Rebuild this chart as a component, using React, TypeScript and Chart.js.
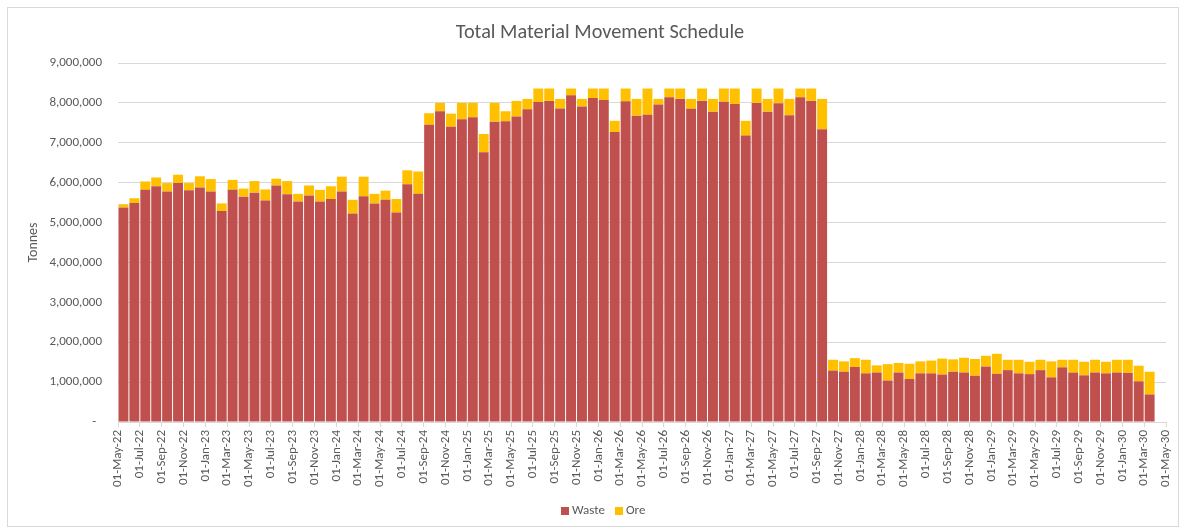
import React, { useEffect, useRef } from "react";
import { Chart, registerables } from "chart.js";

Chart.register(...registerables);

const TITLE = "Total Material Movement Schedule";
const Y_TITLE = "Tonnes";
const FONT = "Carlito, Calibri, Lato, 'Open Sans', sans-serif";
const TEXT = "#595959";
const GRID = "#d9d9d9";

// Bars: one per month, May-22 .. Mar-30
const months: string[] = [
  "May-22", "Jun-22", "Jul-22", "Aug-22", "Sep-22", "Oct-22", "Nov-22", "Dec-22",
  "Jan-23", "Feb-23", "Mar-23", "Apr-23", "May-23", "Jun-23", "Jul-23", "Aug-23", "Sep-23", "Oct-23", "Nov-23", "Dec-23",
  "Jan-24", "Feb-24", "Mar-24", "Apr-24", "May-24", "Jun-24", "Jul-24", "Aug-24", "Sep-24", "Oct-24", "Nov-24", "Dec-24",
  "Jan-25", "Feb-25", "Mar-25", "Apr-25", "May-25", "Jun-25", "Jul-25", "Aug-25", "Sep-25", "Oct-25", "Nov-25", "Dec-25",
  "Jan-26", "Feb-26", "Mar-26", "Apr-26", "May-26", "Jun-26", "Jul-26", "Aug-26", "Sep-26", "Oct-26", "Nov-26", "Dec-26",
  "Jan-27", "Feb-27", "Mar-27", "Apr-27", "May-27", "Jun-27", "Jul-27", "Aug-27", "Sep-27", "Oct-27", "Nov-27", "Dec-27",
  "Jan-28", "Feb-28", "Mar-28", "Apr-28", "May-28", "Jun-28", "Jul-28", "Aug-28", "Sep-28", "Oct-28", "Nov-28", "Dec-28",
  "Jan-29", "Feb-29", "Mar-29", "Apr-29", "May-29", "Jun-29", "Jul-29", "Aug-29", "Sep-29", "Oct-29", "Nov-29", "Dec-29",
  "Jan-30", "Feb-30", "Mar-30",
];

const waste: number[] = [
  5380000, 5490000, 5820000, 5910000, 5780000, 5990000, 5810000, 5880000,
  5780000, 5290000, 5820000, 5650000, 5750000, 5550000, 5930000, 5710000, 5530000, 5680000, 5530000, 5590000,
  5780000, 5230000, 5660000, 5480000, 5570000, 5250000, 5960000, 5720000, 7450000, 7790000, 7400000, 7590000,
  7640000, 6760000, 7530000, 7540000, 7660000, 7840000, 8020000, 8050000, 7860000, 8190000, 7910000, 8120000,
  8070000, 7270000, 8040000, 7680000, 7700000, 7960000, 8140000, 8100000, 7850000, 8050000, 7780000, 8030000,
  7970000, 7180000, 8000000, 7780000, 7990000, 7690000, 8140000, 8050000, 7340000, 1290000, 1260000, 1380000,
  1220000, 1240000, 1040000, 1240000, 1080000, 1220000, 1220000, 1190000, 1260000, 1240000, 1160000, 1390000,
  1210000, 1300000, 1220000, 1200000, 1300000, 1120000, 1370000, 1240000, 1170000, 1240000, 1220000, 1240000,
  1230000, 1020000, 690000,
];

const ore: number[] = [
  80000, 120000, 210000, 220000, 210000, 210000, 180000, 280000,
  310000, 190000, 250000, 200000, 290000, 280000, 170000, 330000, 190000, 250000, 290000, 320000,
  370000, 340000, 490000, 240000, 230000, 340000, 350000, 560000, 290000, 210000, 330000, 410000,
  360000, 460000, 470000, 250000, 390000, 260000, 340000, 310000, 240000, 170000, 190000, 240000,
  290000, 280000, 320000, 420000, 660000, 140000, 220000, 260000, 250000, 310000, 320000, 330000,
  390000, 370000, 360000, 320000, 370000, 410000, 220000, 310000, 760000, 270000, 260000, 220000,
  340000, 180000, 410000, 240000, 380000, 300000, 320000, 400000, 310000, 370000, 420000, 270000,
  500000, 260000, 340000, 310000, 260000, 400000, 190000, 320000, 340000, 320000, 290000, 320000,
  330000, 390000, 570000,
];

// Axis labels every 2 months, at month boundaries
const xTickLabels: string[] = [
  "01-May-22", "01-Jul-22", "01-Sep-22", "01-Nov-22",
  "01-Jan-23", "01-Mar-23", "01-May-23", "01-Jul-23", "01-Sep-23", "01-Nov-23",
  "01-Jan-24", "01-Mar-24", "01-May-24", "01-Jul-24", "01-Sep-24", "01-Nov-24",
  "01-Jan-25", "01-Mar-25", "01-May-25", "01-Jul-25", "01-Sep-25", "01-Nov-25",
  "01-Jan-26", "01-Mar-26", "01-May-26", "01-Jul-26", "01-Sep-26", "01-Nov-26",
  "01-Jan-27", "01-Mar-27", "01-May-27", "01-Jul-27", "01-Sep-27", "01-Nov-27",
  "01-Jan-28", "01-Mar-28", "01-May-28", "01-Jul-28", "01-Sep-28", "01-Nov-28",
  "01-Jan-29", "01-Mar-29", "01-May-29", "01-Jul-29", "01-Sep-29", "01-Nov-29",
  "01-Jan-30", "01-Mar-30", "01-May-30",
];

const yMax = 9000000;
const yStep = 1000000;

const seriesNames = ["Waste", "Ore"];
const seriesColors = ["#C0504D", "#FFC000"];

const W = 1186;
const H = 527;

const overlayPlugin = {
  id: "overlay",
  afterDraw(chart: any) {
    const ctx = chart.ctx as CanvasRenderingContext2D;
    ctx.save();
    // chart border
    ctx.strokeStyle = GRID;
    ctx.lineWidth = 1;
    ctx.strokeRect(7.5, 7.5, W - 15, H - 8);
    // title
    ctx.fillStyle = TEXT;
    ctx.font = `20.3px ${FONT}`;
    ctx.textAlign = "center";
    ctx.textBaseline = "middle";
    ctx.fillText(TITLE, 600, 33);
    // legend
    ctx.font = `13px ${FONT}`;
    ctx.textAlign = "left";
    const ly = 511;
    let x = 561;
    seriesNames.forEach((name, i) => {
      ctx.fillStyle = seriesColors[i];
      ctx.fillRect(x, ly - 4, 8, 8);
      ctx.fillStyle = TEXT;
      ctx.fillText(name, x + 11, ly);
      x += 11 + ctx.measureText(name).width + 10;
    });
    ctx.restore();
  },
};

export default function App() {
  const ref = useRef<HTMLCanvasElement | null>(null);

  useEffect(() => {
    if (!ref.current) return;
    const chart = new Chart(ref.current, {
      type: "bar",
      data: {
        datasets: [
          {
            label: seriesNames[0],
            data: waste.map((v, i) => ({ x: i + 0.5, y: v })),
            backgroundColor: seriesColors[0],
            borderWidth: 0,
            categoryPercentage: 1,
            barPercentage: 0.91,
          },
          {
            label: seriesNames[1],
            data: ore.map((v, i) => ({ x: i + 0.5, y: v })),
            backgroundColor: seriesColors[1],
            borderWidth: 0,
            categoryPercentage: 1,
            barPercentage: 0.91,
          },
        ],
      },
      options: {
        responsive: false,
        animation: false,
        devicePixelRatio: 1,
        layout: { padding: { top: 63, right: 20, left: 0, bottom: 0 } },
        plugins: {
          legend: { display: false },
          title: { display: false },
          tooltip: {
            callbacks: {
              title: (items: any[]) => months[Math.floor(items[0].parsed.x)],
            },
          },
        },
        scales: {
          x: {
            type: "linear",
            stacked: true,
            offset: false,
            min: 0,
            max: months.length + 1,
            afterFit: (s: any) => {
              s.height = 105;
            },
            ticks: {
              stepSize: 2,
              autoSkip: false,
              minRotation: 90,
              maxRotation: 90,
              padding: 3,
              color: TEXT,
              font: { family: FONT, size: 13 },
              callback: (v: any) => xTickLabels[Math.round(Number(v) / 2)] ?? "",
            },
            grid: {
              offset: false,
              drawOnChartArea: false,
              drawTicks: true,
              tickLength: 5,
              color: GRID,
            },
            border: { display: true, color: GRID },
          },
          y: {
            stacked: true,
            min: 0,
            max: yMax,
            afterFit: (s: any) => {
              s.width = 118;
            },
            ticks: {
              stepSize: yStep,
              padding: 16,
              color: TEXT,
              font: { family: FONT, size: 13 },
              callback: (v: any) => (Number(v) === 0 ? "-  " : Number(v).toLocaleString("en-US")),
            },
            grid: { color: GRID, drawTicks: false },
            border: { display: false },
            title: {
              display: true,
              text: Y_TITLE,
              color: TEXT,
              font: { family: FONT, size: 14 },
              padding: { top: 25, bottom: 0 },
            },
          },
        },
      },
      plugins: [overlayPlugin],
    } as any);
    return () => chart.destroy();
  }, []);

  return (
    <div style={{ position: "absolute", left: 0, top: 0, width: W, height: H, background: "#fff" }}>
      <canvas ref={ref} width={W} height={H} />
    </div>
  );
}
